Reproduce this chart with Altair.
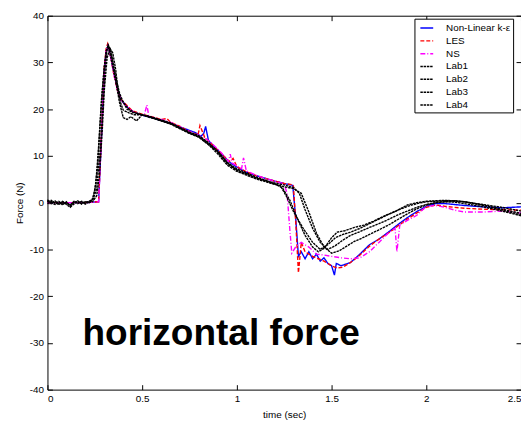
import altair as alt
import pandas as pd

# ---------------- data ----------------
NAMES = ["Non-Linear k-ε", "LES", "NS", "Lab1", "Lab2", "Lab3", "Lab4"]
COLORS = ["#0000ff", "#ff0000", "#ff00ff", "#000000", "#000000", "#000000", "#000000"]
DASHES = [[1, 0], [4, 2], [5, 2, 1, 2], [2.5, 0.8], [2.5, 0.8], [2.5, 0.8], [2.5, 0.8]]

T_NL = [0.00, 0.10, 0.20, 0.27, 0.285, 0.30, 0.31, 0.32, 0.335, 0.35, 0.37, 0.39, 0.42, 0.45, 0.48,
        0.51, 0.55, 0.60, 0.65, 0.70, 0.74, 0.78, 0.81, 0.825, 0.835, 0.85, 0.88, 0.92, 0.96, 1.00,
        1.05, 1.10, 1.15, 1.20, 1.25, 1.295, 1.31, 1.325, 1.34, 1.36, 1.38, 1.40, 1.42, 1.44, 1.46,
        1.48, 1.50, 1.515, 1.525, 1.55, 1.60, 1.65, 1.70, 1.75, 1.80, 1.85, 1.90, 1.95, 2.00, 2.05,
        2.10, 2.15, 2.20, 2.30, 2.40, 2.50]
F_NL = [0.0, 0.0, 0.0, 0.2, 14, 28, 32.5, 33.5, 31, 28, 24.5, 22, 20.5, 19.5, 19,
        18.6, 18.2, 17.6, 17.0, 16.2, 15.6, 15.0, 14.2, 14.8, 16.3, 13.3, 12.0, 10.4, 8.7, 7.6,
        6.5, 5.8, 5.2, 4.6, 4.1, 3.7, -3, -11.5, -10.5, -12, -10.5, -12, -11, -12.5, -11.8,
        -13, -13.5, -15.5, -13, -13.5, -12.8, -11, -9, -7.8, -6.3, -4.7, -3.2, -1.9, -0.8, -0.2,
        -0.2, -0.4, -0.6, -0.9, -1.1, -0.9]

T_LES = [0.00, 0.10, 0.20, 0.27, 0.285, 0.30, 0.31, 0.318, 0.335, 0.35, 0.37, 0.39, 0.42, 0.45, 0.48,
         0.51, 0.55, 0.60, 0.63, 0.65, 0.70, 0.74, 0.78, 0.795, 0.805, 0.83, 0.85, 0.88, 0.92, 0.96,
         0.98, 1.00, 1.05, 1.10, 1.15, 1.20, 1.25, 1.298, 1.312, 1.325, 1.34, 1.36, 1.38, 1.40, 1.43,
         1.46, 1.50, 1.53, 1.56, 1.60, 1.65, 1.70, 1.75, 1.80, 1.85, 1.90, 1.95, 2.00, 2.05, 2.10,
         2.15, 2.20, 2.30, 2.40, 2.50]
F_LES = [0.0, 0.0, 0.0, 0.2, 15, 29, 33, 34, 31, 27.5, 24, 22, 20.8, 19.6, 19.2,
         18.8, 18.4, 17.8, 18.0, 17.2, 16.3, 15.4, 14.7, 14.5, 16.5, 14.0, 13.2, 12.0, 10.4, 8.8,
         9.5, 7.7, 6.6, 5.8, 5.2, 4.6, 4.1, 3.8, -5, -15, -8.5, -10.5, -11, -11.5, -12,
         -12.5, -13.5, -14, -13.8, -12.8, -11.2, -9.3, -7.8, -6.5, -5.0, -3.5, -2.2, -1.0, -0.5, -0.8,
         -1.0, -1.2, -1.4, -1.5, -1.6]

T_NS = [0.00, 0.10, 0.20, 0.27, 0.285, 0.30, 0.31, 0.318, 0.335, 0.35, 0.37, 0.39, 0.42, 0.45, 0.48,
        0.51, 0.525, 0.535, 0.55, 0.60, 0.65, 0.70, 0.75, 0.80, 0.85, 0.88, 0.92, 0.955, 0.965, 0.975,
        1.00, 1.025, 1.035, 1.05, 1.10, 1.15, 1.20, 1.25, 1.265, 1.28, 1.29, 1.31, 1.34, 1.38, 1.42,
        1.46, 1.50, 1.55, 1.60, 1.65, 1.70, 1.75, 1.80, 1.835, 1.845, 1.86, 1.90, 1.95, 2.00, 2.05,
        2.10, 2.15, 2.20, 2.30, 2.40, 2.50]
F_NS = [0.0, 0.0, 0.0, 0.2, 14, 28, 32.5, 33.5, 31, 27.5, 24, 21.8, 20.5, 19.5, 19.0,
        18.6, 20.9, 18.5, 18.3, 17.8, 17.2, 16.2, 15.2, 14.4, 13.3, 12.2, 10.6, 8.8, 10.4, 8.5,
        7.9, 7.3, 9.6, 6.8, 5.9, 5.2, 4.6, 4.0, 2.0, -6, -10.8, -9.5, -8.5, -9.5, -11,
        -11.2, -11.5, -11.8, -12, -11.8, -10.5, -8.5, -6.5, -5.5, -10.5, -4.8, -3.8, -2.7, -0.8, -0.6,
        -1.0, -1.6, -2.0, -2.0, -1.8, -2.2]

T_LAB1 = [0.00, 0.02, 0.04, 0.06, 0.08, 0.10, 0.12, 0.14, 0.16, 0.18, 0.20, 0.22,
          0.235, 0.25, 0.265, 0.28, 0.29, 0.30, 0.31, 0.32, 0.33, 0.345,
          0.36, 0.38, 0.40, 0.42, 0.45, 0.48, 0.52, 0.56, 0.60, 0.65,
          0.70, 0.75, 0.80, 0.85, 0.90, 0.95, 1.00, 1.05, 1.10, 1.15,
          1.20, 1.23, 1.26, 1.30, 1.35, 1.40, 1.44, 1.48, 1.52, 1.56,
          1.60, 1.65, 1.70, 1.75, 1.80, 1.85, 1.90, 1.95, 2.00, 2.05,
          2.10, 2.15, 2.20, 2.30, 2.40, 2.50]
F_LAB1 = [0.6, -0.2, 0.4, -0.3, 0.3, -0.4, -1.0, -0.3, 0.3, -0.2, 0.2, 0.1,
          0.5, 2.5, 8, 18, 24, 29, 32.5, 33.5, 32, 29,
          26, 22.5, 21.5, 20, 19.3, 19, 18.5, 18, 17.5, 16.8,
          15.8, 14.8, 14, 12.5, 10.8, 8.5, 7.0, 6.2, 5.3, 4.7,
          4.0, 3.6, 1.5, -2, -5.5, -8.5, -10, -9, -7.5, -6.8,
          -6.3, -5.5, -4.5, -3.5, -2.5, -1.6, -0.8, -0.2, 0.2, 0.3,
          0.4, 0.4, 0.2, -0.5, -1.4, -2.3]

T_LAB2 = [0.00, 0.02, 0.04, 0.06, 0.08, 0.10, 0.12, 0.14, 0.16, 0.18, 0.20, 0.22,
          0.24, 0.255, 0.27, 0.285, 0.30, 0.31, 0.32, 0.335, 0.35, 0.365,
          0.38, 0.40, 0.42, 0.44, 0.47, 0.50, 0.55, 0.60, 0.65, 0.70,
          0.75, 0.80, 0.85, 0.90, 0.95, 1.00, 1.05, 1.10, 1.15, 1.20,
          1.24, 1.28, 1.32, 1.36, 1.40, 1.43, 1.46, 1.50, 1.53, 1.57,
          1.62, 1.67, 1.72, 1.78, 1.84, 1.90, 1.95, 2.00, 2.05, 2.10,
          2.15, 2.20, 2.30, 2.40, 2.50]
F_LAB2 = [0.3, 0.0, -0.4, 0.2, -0.3, 0.1, -0.6, 0.2, -0.2, 0.3, -0.1, 0.3,
          0.8, 4, 12, 22, 29, 32, 33.8, 32.5, 29, 25,
          21.5, 18.2, 17.8, 18.4, 17.5, 18.8, 18.3, 17.6, 17.0, 16.0,
          15.0, 14.2, 12.8, 11.0, 8.6, 7.2, 6.4, 5.5, 4.8, 4.0,
          3.2, 0.5, -3.5, -7, -9.5, -10.5, -9.8, -7.5, -6.3, -6.0,
          -5.3, -4.8, -4.0, -2.8, -1.8, -0.5, 0.0, 0.3, 0.4, 0.5,
          0.4, 0.2, -0.4, -1.0, -1.8]

T_LAB3 = [0.00, 0.02, 0.04, 0.06, 0.08, 0.10, 0.12, 0.14, 0.16, 0.18, 0.20, 0.22,
          0.24, 0.26, 0.275, 0.29, 0.30, 0.315, 0.33, 0.345, 0.36, 0.37,
          0.385, 0.40, 0.43, 0.46, 0.50, 0.55, 0.60, 0.65, 0.70, 0.75,
          0.80, 0.85, 0.90, 0.95, 1.00, 1.05, 1.10, 1.15, 1.20, 1.25,
          1.30, 1.33, 1.36, 1.40, 1.44, 1.48, 1.52, 1.56, 1.60, 1.65,
          1.70, 1.75, 1.80, 1.85, 1.90, 1.95, 2.00, 2.05, 2.10, 2.15,
          2.20, 2.30, 2.40, 2.50]
F_LAB3 = [0.2, 0.5, -0.2, 0.3, -0.5, 0.2, -0.8, 0.0, 0.4, -0.3, 0.2, 0.0,
          0.3, 1.5, 6, 16, 24, 31, 33, 32, 28.5, 25,
          21.5, 19.8, 19.2, 18.8, 18.8, 18.3, 17.7, 17.1, 16.1, 15.1,
          14.3, 12.8, 10.8, 8.3, 6.9, 6.1, 5.3, 4.7, 4.2, 3.8,
          3.2, 2.0, -1.5, -5.5, -8.5, -10, -9.2, -8.0, -7.0, -6.2,
          -5.3, -4.5, -3.6, -2.6, -1.8, -1.0, -0.4, 0.0, 0.2, 0.3,
          0.2, -0.6, -1.6, -2.6]

T_LAB4 = [0.00, 0.02, 0.04, 0.06, 0.08, 0.10, 0.12, 0.14, 0.16, 0.18, 0.20, 0.22,
          0.24, 0.26, 0.28, 0.295, 0.305, 0.315, 0.325, 0.34, 0.36, 0.38,
          0.40, 0.43, 0.46, 0.50, 0.55, 0.60, 0.65, 0.70, 0.75, 0.80,
          0.85, 0.90, 0.95, 1.00, 1.05, 1.10, 1.15, 1.20, 1.25, 1.30,
          1.34, 1.38, 1.42, 1.46, 1.50, 1.54, 1.58, 1.62, 1.66, 1.70,
          1.75, 1.80, 1.85, 1.90, 1.95, 2.00, 2.05, 2.10, 2.15, 2.20,
          2.30, 2.40, 2.50]
F_LAB4 = [-0.2, 0.3, 0.0, -0.4, 0.2, -0.2, -0.5, 0.3, -0.1, 0.2, -0.3, 0.2,
          0.6, 3, 12, 22, 29, 33, 33.5, 31, 27, 23.5,
          21.5, 20, 19.3, 18.8, 18.2, 17.5, 16.9, 15.9, 14.9, 14.0,
          12.4, 10.4, 8.0, 6.7, 5.9, 5.1, 4.5, 3.9, 3.4, 3.0,
          2.0, -2.0, -6.5, -9.5, -10.8, -10.3, -9.3, -8.3, -7.6, -6.8,
          -5.8, -4.8, -3.6, -2.4, -1.3, -0.5, 0.0, 0.2, 0.1, -0.2,
          -0.9, -1.8, -2.8]

X_TICKS = [0, 0.5, 1, 1.5, 2, 2.5]
Y_TICKS = [-40, -30, -20, -10, 0, 10, 20, 30, 40]

ANNOT_TEXT = ["horizontal force"]
ANNOT_T = [0.185]
ANNOT_F = [-30.4]

# ---------------- build table ----------------
SERIES = [(T_NL, F_NL), (T_LES, F_LES), (T_NS, F_NS), (T_LAB1, F_LAB1),
          (T_LAB2, F_LAB2), (T_LAB3, F_LAB3), (T_LAB4, F_LAB4)]
rows = []
for k, (name, (T, F)) in enumerate(zip(NAMES, SERIES)):
    assert len(T) == len(F), name
    for i, (t, f) in enumerate(zip(T, F)):
        rows.append({"series": name, "t": t, "F": f, "i": i, "k": k})
df = pd.DataFrame(rows)
annot = pd.DataFrame({"text": ANNOT_TEXT, "t": ANNOT_T, "F": ANNOT_F})

FONT = "Liberation Sans"
xscale = alt.Scale(domain=[0, 2.5], nice=False, zero=False)
yscale = alt.Scale(domain=[-40, 40], nice=False)

leg = alt.Legend(title=None, orient="none", legendX=372, legendY=3,
                 symbolType="stroke", symbolSize=169, symbolStrokeWidth=1.5,
                 labelFontSize=10, labelFont=FONT, labelColor="black",
                 padding=2, strokeColor="black", fillColor="white",
                 rowPadding=0, labelOffset=12, symbolOffset=3)

lines = alt.Chart(df).mark_line(strokeWidth=1.4).encode(
    x=alt.X("t:Q", scale=xscale,
            axis=alt.Axis(orient="bottom", values=X_TICKS, labelExpr="datum.value + ''",
                          ticks=False, domain=False, grid=False, labelPadding=4,
                          labelFont=FONT, labelFontSize=10, labelColor="black",
                          title="time (sec)", titleFont=FONT, titleFontSize=10,
                          titleFontWeight="normal", titleColor="black", titlePadding=6)),
    y=alt.Y("F:Q", scale=yscale,
            axis=alt.Axis(orient="left", values=Y_TICKS, labelExpr="datum.value + ''",
                          ticks=False, domain=False, grid=False, labelPadding=4,
                          labelFont=FONT, labelFontSize=10, labelColor="black",
                          title="Force (N)", titleFont=FONT, titleFontSize=10,
                          titleFontWeight="normal", titleColor="black", titlePadding=5)),
    color=alt.Color("series:N", scale=alt.Scale(domain=NAMES, range=COLORS), legend=leg, sort=NAMES),
    strokeDash=alt.StrokeDash("series:N", scale=alt.Scale(domain=NAMES, range=DASHES), legend=leg, sort=NAMES),
    detail="k:O",
    order="i:Q",
)


def tick_layer(xo, yo):
    return alt.Chart(df).mark_point(opacity=0).encode(
        x=alt.X("t:Q", scale=xscale,
                axis=alt.Axis(orient=xo, offset=-5, values=X_TICKS, ticks=True, tickSize=5,
                              tickColor="black", labels=False, domain=False, grid=False, title=None)),
        y=alt.Y("F:Q", scale=yscale,
                axis=alt.Axis(orient=yo, offset=-5, values=Y_TICKS, ticks=True, tickSize=5,
                              tickColor="black", labels=False, domain=False, grid=False, title=None)),
    )


text = alt.Chart(annot).mark_text(font=FONT, fontSize=37.5, fontWeight="bold", align="left",
                                  baseline="alphabetic", color="black").encode(
    x=alt.X("t:Q", scale=xscale, axis=None),
    y=alt.Y("F:Q", scale=yscale, axis=None),
    text="text:N",
)

chart = alt.layer(lines, tick_layer("bottom", "left"), tick_layer("top", "right"), text).resolve_axis(
    x="independent", y="independent"
).properties(
    width=480, height=379,
    autosize=alt.AutoSizeParams(type="none"),
    padding={"left": 40, "top": 5, "right": 0, "bottom": 30},
    background="white",
).configure_view(stroke="black", strokeWidth=1)

chart.save("out.html", embed_options={"renderer": "svg", "actions": False})
